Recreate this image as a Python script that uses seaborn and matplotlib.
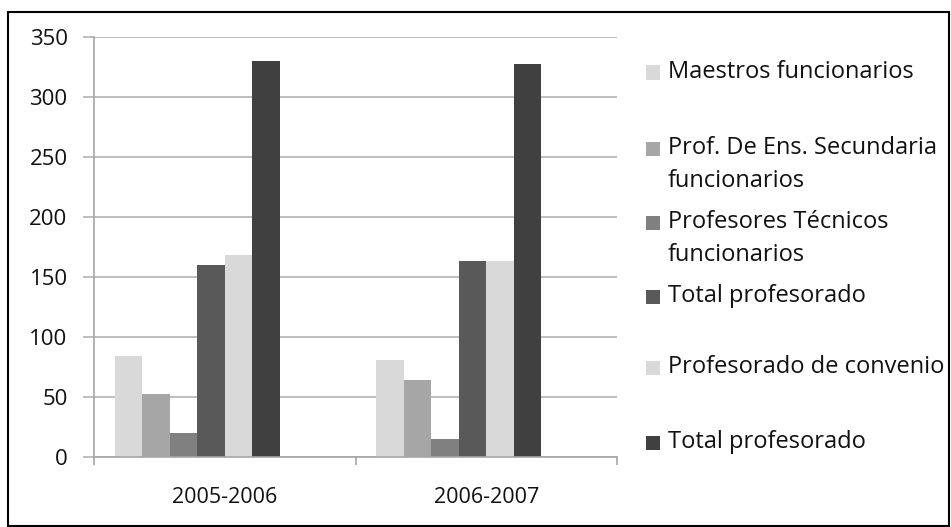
import matplotlib
matplotlib.use("Agg")
import matplotlib.pyplot as plt
from matplotlib.patches import Rectangle
import pandas as pd
import seaborn as sns

# datos
cursos = ["2005-2006", "2006-2007"]
series = ["maestros", "secundaria", "tecnicos", "total1", "convenio", "total2"]
etiquetas = ["Maestros funcionarios",
             "Prof. De Ens. Secundaria\nfuncionarios",
             "Profesores Técnicos\nfuncionarios",
             "Total profesorado",
             "Profesorado de convenio",
             "Total profesorado"]
maestros = [84, 81]
secundaria = [53, 64]
tecnicos = [20, 15]
total1 = [160, 163]
convenio = [168, 163]
total2 = [330, 327]

colores = ["#d9d9d9", "#a6a6a6", "#808080", "#595959", "#d9d9d9", "#404040"]
# two empty series in the original workbook leave room at the right of each group
vacias = ["vacia1", "vacia2"]

valores = [maestros, secundaria, tecnicos, total1, convenio, total2]
filas = []
for s, vals in zip(series, valores):
    for c, v in zip(cursos, vals):
        filas.append({"curso": c, "serie": s, "valor": v})
df = pd.DataFrame(filas)

sns.set_style("white")
plt.rcParams["font.family"] = ["Open Sans", "DejaVu Sans"]

fig = plt.figure(figsize=(9.51, 5.27), dpi=100)
ax = fig.add_axes([94 / 951, 1 - 457.3 / 527, (617 - 94) / 951, (457.3 - 36.7) / 527])

paleta = dict(zip(series, colores))
paleta.update({v: "white" for v in vacias})
sns.barplot(data=df, x="curso", y="valor", hue="serie", hue_order=series + vacias,
            palette=paleta, width=0.84, gap=0, linewidth=0, ax=ax, legend=False,
            errorbar=None)

ax.set_ylim(0, 350)
ax.set_xlim(-0.5, 1.5)
ax.set_yticks(range(0, 351, 50))
ax.set_xlabel("")
ax.set_ylabel("")
ax.yaxis.grid(True, color="#b3b3b3", linewidth=1.2)
ax.set_axisbelow(True)
for lado in ["top", "right"]:
    ax.spines[lado].set_visible(False)
for lado in ["left", "bottom"]:
    ax.spines[lado].set_color("#a6a6a6")
    ax.spines[lado].set_linewidth(1.2)

ax.tick_params(axis="y", left=True, length=8, width=1.2, color="#b3b3b3",
               labelsize=16, pad=11, labelcolor="#111111")
ax.set_xticks([0, 1])
ax.set_xticklabels(cursos)
ax.tick_params(axis="x", bottom=False, labelsize=15.5, pad=18, labelcolor="#111111")
# marcas entre categorias
ax.set_xticks([-0.5, 0.5, 1.5], minor=True)
ax.tick_params(axis="x", which="minor", bottom=True, length=6, width=1.2, color="#a6a6a6")

# leyenda
ys = [72.5, 149, 222.7, 296.7, 368, 443]
for y, etiqueta, color in zip(ys, etiquetas, colores):
    fig.patches.append(Rectangle((646 / 951, 1 - (y + 7) / 527), 14 / 951, 14 / 527,
                                 transform=fig.transFigure, facecolor=color,
                                 edgecolor="none"))
    fig.text(668 / 951, 1 - (y - 13) / 527, etiqueta, fontsize=17, va="top",
             ha="left", color="#111111", linespacing=1.5)

# marco exterior
fig.patches.append(Rectangle((8 / 951, 1.5 / 527), 941 / 951, 513.5 / 527,
                             transform=fig.transFigure, fill=False,
                             edgecolor="black", linewidth=1.5))

fig.savefig("out.png", dpi=100)
